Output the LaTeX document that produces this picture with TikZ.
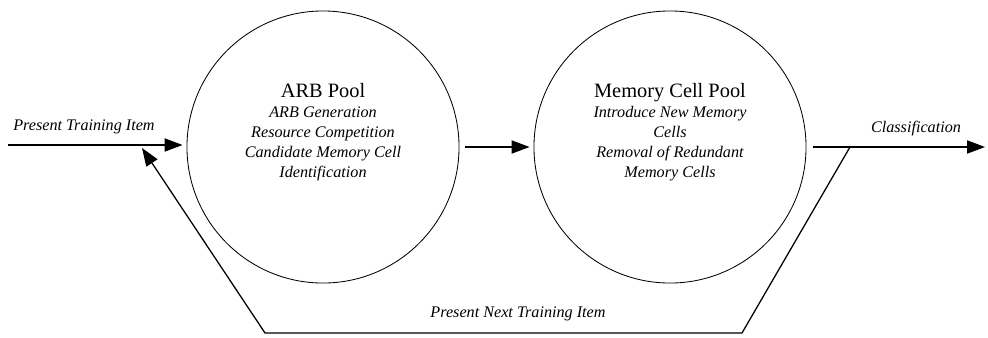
\documentclass[tikz,border=0pt]{standalone}
\usepackage{fontspec}
\setmainfont{Liberation Serif}
\usetikzlibrary{positioning, arrows.meta, calc}
\tikzset{
  pool/.style      ={draw, circle, line width=0.6pt, inner sep=0pt,
                     minimum size=6.8cm},
  pooltext/.style  ={align=center, inner sep=0pt,
                     font=\fontsize{11.5}{14.2}\selectfont\itshape},
  flow/.style      ={-{Triangle[length=4.5mm, width=3.3mm]},
                     line width=0.9pt, draw=black},
  flowlabel/.style ={font=\fontsize{11.5}{13}\selectfont\itshape,
                     inner sep=0pt},
}
\newcommand{\pooltitle}[1]{{\upshape\fontsize{14.5}{16}\selectfont #1}}

\begin{document}
\begin{tikzpicture}[x=0.025cm, y=-0.025cm]

  \useasboundingbox (0,0) rectangle (988,337);

  % ============================================================
  % POOLS
  % ============================================================
  \node[pool] (arb) at (323,147) {};
  \node[pool] (mem) at (670,147) {};

  \node[pooltext] (arbtext) at (323,132) {%
    \pooltitle{ARB Pool}\\
    ARB Generation\\
    Resource Competition\\
    Candidate Memory Cell\\
    Identification};

  \node[pooltext] (memtext) at (670,132) {%
    \pooltitle{Memory Cell Pool}\\
    Introduce New Memory\\
    Cells\\
    Removal of Redundant\\
    Memory Cells};

  % ============================================================
  % ARROWS
  % ============================================================
  \coordinate (trainin)  at (8,145);
  \coordinate (classout) at (985,147);
  \coordinate (fbstart)  at (850,147);
  \coordinate (fbright)  at (742,333);
  \coordinate (fbleft)   at (265,333);
  \coordinate (fbend)    at (142,148);

  \draw[flow, shorten >=1mm] (trainin) -- (trainin -| arb.west);
  \draw[flow, shorten <=1.5mm, shorten >=1mm] (arb) -- (mem);
  \draw[flow, shorten <=1.75mm] (mem.east) -- (classout);

  % feedback loop
  \draw[flow] (fbstart) -- (fbright) -- (fbleft) -- (fbend);

  % ============================================================
  % LABELS
  % ============================================================
  \node[flowlabel, anchor=base west] (lbltrain) at (13,130)
       {Present Training Item};
  \node[flowlabel, anchor=base] (lblclass) at (916,132)
       {Classification};
  \node[flowlabel, anchor=base] (lblnext) at (518,317)
       {Present Next Training Item};

\end{tikzpicture}
\end{document}
